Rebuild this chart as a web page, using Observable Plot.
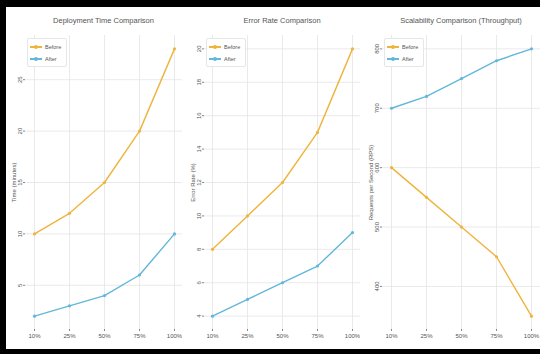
<!DOCTYPE html>
<html>
<head>
<meta charset="utf-8">
<script src="https://cdn.jsdelivr.net/npm/d3@7"></script>
<script src="https://cdn.jsdelivr.net/npm/@observablehq/plot@0.6"></script>
<style>
  html, body { margin: 0; padding: 0; background: #fff; }
  #wrap { position: relative; width: 540px; height: 354px; overflow: hidden; background: #fff; }
  .bt { position: absolute; left: 0; top: 0; width: 540px; height: 7px; background: #000; }
  .bl { position: absolute; left: 0; top: 0; width: 6px; height: 354px; background: #000; }
  .bb { position: absolute; left: 0; top: 349px; width: 540px; height: 5px; background: #000; }
  .title { position: absolute; top: 16px; font: 7.5px "Liberation Sans", Arial, sans-serif; color: #555; text-align: center; white-space: nowrap; }
  .panel { position: absolute; top: 30px; }
  .legend { position: absolute; font: 5.5px "Liberation Sans", Arial, sans-serif; color: #555; border: 1px solid #e6e6e6; border-radius: 2px; background: rgba(255,255,255,0.85); padding: 2px 5px 1px 2px; }
  .legend div { display: flex; align-items: center; height: 12px; }
  .sw { position: relative; width: 12px; height: 1.5px; margin-right: 3px; }
  .sw i { position: absolute; left: 4px; top: -1.25px; width: 4px; height: 4px; border-radius: 50%; }
</style>
</head>
<body>
<div id="wrap"></div>
<script>
const levels = ["10%", "25%", "50%", "75%", "100%"];
const seriesNames = ["Before", "After"];
const deployBefore = [10, 12, 15, 20, 28];
const deployAfter = [2, 3, 4, 6, 10];
const errorBefore = [8, 10, 12, 15, 20];
const errorAfter = [4, 5, 6, 7, 9];
const rpsBefore = [600, 550, 500, 450, 350];
const rpsAfter = [700, 720, 750, 780, 800];
const titles = ["Deployment Time Comparison", "Error Rate Comparison", "Scalability Comparison (Throughput)"];
const yLabels = ["Time (minutes)", "Error Rate (%)", "Requests per Second (RPS)"];
const yTicks = [[5, 10, 15, 20, 25], [4, 6, 8, 10, 12, 14, 16, 18, 20], [400, 500, 600, 700, 800]];
const colors = ["#efb43c", "#62b7da"];

const wrap = document.getElementById("wrap");
const panels = [
  {before: deployBefore, after: deployAfter, left: 7, width: 175, ml: 18},
  {before: errorBefore, after: errorAfter, left: 182, width: 178, ml: 22},
  {before: rpsBefore, after: rpsAfter, left: 360, width: 180, ml: 22}
];

panels.forEach((p, i) => {
  const rows = [];
  levels.forEach((l, j) => {
    rows.push({level: l, series: seriesNames[0], value: p.before[j]});
    rows.push({level: l, series: seriesNames[1], value: p.after[j]});
  });
  const all = p.before.concat(p.after);
  const lo = d3.min(all), hi = d3.max(all), pad = (hi - lo) * 0.05;
  const chart = Plot.plot({
    width: p.width,
    height: 319,
    marginLeft: p.ml,
    marginRight: 0,
    marginTop: 5,
    marginBottom: 20,
    style: {fontFamily: "Liberation Sans, Arial, sans-serif", fontSize: "6px", color: "#555", background: "transparent"},
    x: {type: "point", domain: levels, padding: 0.2},
    y: {domain: [lo - pad, hi + pad]},
    color: {domain: seriesNames, range: colors},
    marks: [
      Plot.gridX(levels, {stroke: "#e4e4e4", strokeOpacity: 1, strokeWidth: 0.8}),
      Plot.gridY(yTicks[i], {stroke: "#e4e4e4", strokeOpacity: 1, strokeWidth: 0.8}),
      Plot.axisX({tickSize: 2, tickPadding: 2, label: null, fontSize: 6, stroke: "#888", line: true}),
      Plot.axisY({ticks: yTicks[i], tickSize: 2, tickPadding: 2, tickRotate: -90, label: yLabels[i], labelAnchor: "center", labelArrow: "none", labelOffset: 14, fontSize: 6, stroke: "#888", line: true}),
      Plot.line(rows, {x: "level", y: "value", stroke: "series", z: "series", strokeWidth: 1.4}),
      Plot.dot(rows, {x: "level", y: "value", fill: "series", r: 1.6})
    ]
  });
  const div = document.createElement("div");
  div.className = "panel";
  div.style.left = p.left + "px";
  div.appendChild(chart);
  wrap.appendChild(div);

  const t = document.createElement("div");
  t.className = "title";
  const plotLeft = p.left + p.ml, plotRight = p.left + p.width;
  t.style.left = plotLeft + "px";
  t.style.width = (plotRight - plotLeft) + "px";
  t.textContent = titles[i];
  wrap.appendChild(t);

  const lg = document.createElement("div");
  lg.className = "legend";
  lg.style.left = (plotLeft + 2) + "px";
  lg.style.top = "38px";
  seriesNames.forEach((s, k) => {
    const row = document.createElement("div");
    const sw = document.createElement("span");
    sw.className = "sw";
    sw.style.background = colors[k];
    const dot = document.createElement("i");
    dot.style.background = colors[k];
    sw.appendChild(dot);
    row.appendChild(sw);
    row.appendChild(document.createTextNode(s));
    lg.appendChild(row);
  });
  wrap.appendChild(lg);
});

["bt", "bl", "bb"].forEach(c => {
  const d = document.createElement("div");
  d.className = c;
  wrap.appendChild(d);
});
</script>
</body>
</html>
